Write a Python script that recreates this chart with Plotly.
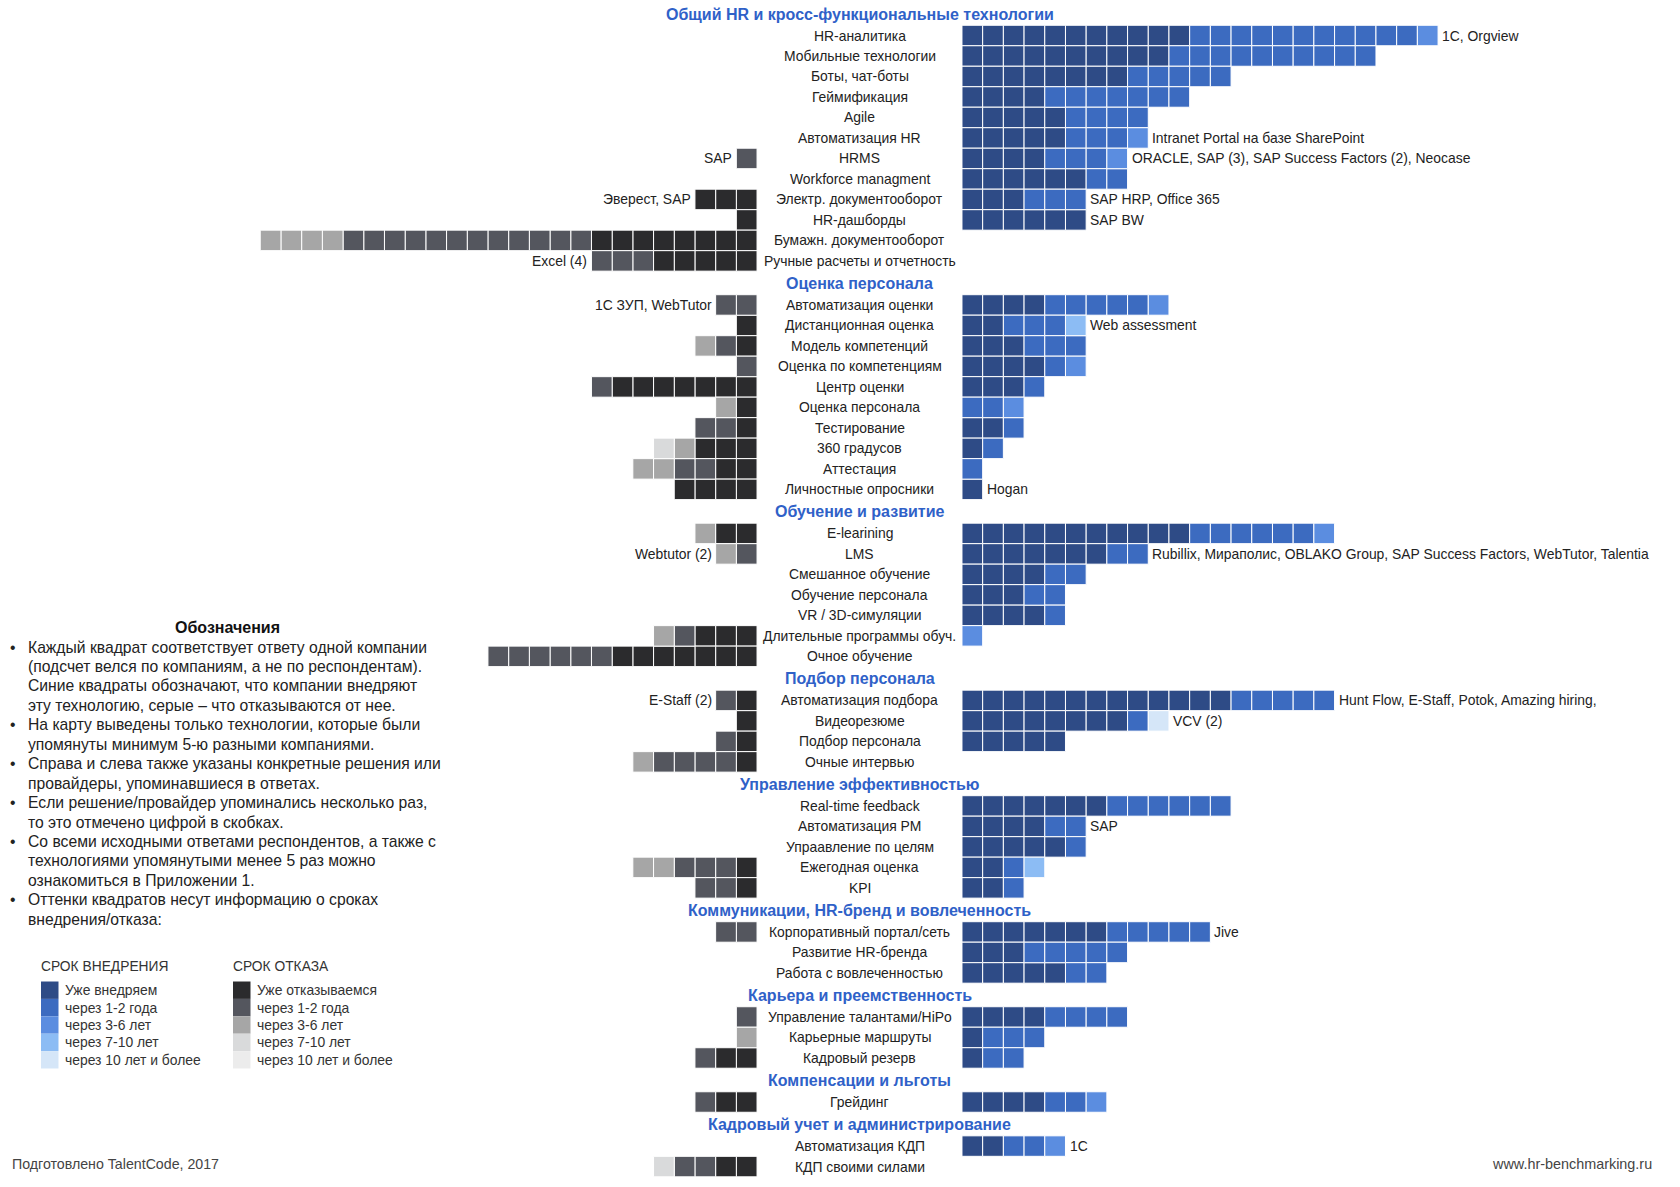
import plotly.graph_objects as go

W, H = 1680, 1187

# ---------------- data ----------------
section_titles = [
    "Общий HR и кросс-функциональные технологии",
    "Оценка персонала",
    "Обучение и развитие",
    "Подбор персонала",
    "Управление эффективностью",
    "Коммуникации, HR-бренд и вовлеченность",
    "Карьера и преемственность",
    "Компенсации и льготы",
    "Кадровый учет и администрирование",
]
section_sizes = [12, 10, 7, 4, 5, 3, 3, 1, 2]

tech_names = [
    "HR-аналитика", "Мобильные технологии", "Боты, чат-боты", "Геймификация", "Agile",
    "Автоматизация HR", "HRMS", "Workforce managment", "Электр. документооборот",
    "HR-дашборды", "Бумажн. документооборот", "Ручные расчеты и отчетность",
    "Автоматизация оценки", "Дистанционная оценка", "Модель компетенций",
    "Оценка по компетенциям", "Центр оценки", "Оценка персонала", "Тестирование",
    "360 градусов", "Аттестация", "Личностные опросники",
    "E-learining", "LMS", "Смешанное обучение", "Обучение персонала", "VR / 3D-симуляции",
    "Длительные программы обуч.", "Очное обучение",
    "Автоматизация подбора", "Видеорезюме", "Подбор персонала", "Очные интервью",
    "Real-time feedback", "Автоматизация PM", "Упраавление по целям", "Ежегодная оценка", "KPI",
    "Корпоративный портал/сеть", "Развитие HR-бренда", "Работа с вовлеченностью",
    "Управление талантами/HiPo", "Карьерные маршруты", "Кадровый резерв",
    "Грейдинг",
    "Автоматизация КДП", "КДП своими силами",
]

# adoption (blue, right side) — number of companies by timeframe
adopt_now = [11, 10, 8, 4, 5, 5, 4, 6, 3, 6, 0, 0,
             4, 2, 3, 4, 3, 0, 2, 1, 0, 1,
             11, 7, 4, 3, 4, 0, 0,
             13, 8, 5, 0,
             7, 4, 5, 2, 2,
             7, 3, 5,
             4, 1, 1,
             4,
             2, 0]
adopt_1_2 = [11, 10, 5, 7, 4, 3, 3, 2, 3, 0, 0, 0,
             5, 3, 3, 1, 1, 2, 1, 1, 1, 0,
             6, 2, 2, 2, 1, 0, 0,
             5, 1, 0, 0,
             6, 2, 1, 1, 1,
             5, 5, 2,
             4, 3, 2,
             2,
             2, 0]
adopt_3_6 = [1, 0, 0, 0, 0, 1, 1, 0, 0, 0, 0, 0,
             1, 0, 0, 1, 0, 1, 0, 0, 0, 0,
             1, 0, 0, 0, 0, 1, 0,
             0, 0, 0, 0,
             0, 0, 0, 0, 0,
             0, 0, 0,
             0, 0, 0,
             1,
             1, 0]
adopt_7_10 = [0, 0, 0, 0, 0, 0, 0, 0, 0, 0, 0, 0,
              0, 1, 0, 0, 0, 0, 0, 0, 0, 0,
              0, 0, 0, 0, 0, 0, 0,
              0, 0, 0, 0,
              0, 0, 0, 1, 0,
              0, 0, 0,
              0, 0, 0,
              0,
              0, 0]
adopt_10p = [0, 0, 0, 0, 0, 0, 0, 0, 0, 0, 0, 0,
             0, 0, 0, 0, 0, 0, 0, 0, 0, 0,
             0, 0, 0, 0, 0, 0, 0,
             0, 1, 0, 0,
             0, 0, 0, 0, 0,
             0, 0, 0,
             0, 0, 0,
             0,
             0, 0]

# rejection (grey, left side)
reject_now = [0, 0, 0, 0, 0, 0, 0, 0, 3, 1, 8, 5,
              0, 1, 1, 0, 7, 1, 1, 3, 2, 4,
              2, 0, 0, 0, 0, 3, 7,
              1, 1, 1, 1,
              0, 0, 0, 1, 1,
              0, 0, 0,
              0, 0, 2,
              2,
              0, 2]
reject_1_2 = [0, 0, 0, 0, 0, 0, 1, 0, 0, 0, 12, 3,
              2, 0, 1, 1, 1, 0, 2, 0, 2, 0,
              0, 1, 0, 0, 0, 1, 6,
              1, 0, 1, 4,
              0, 0, 0, 3, 2,
              2, 0, 0,
              1, 0, 1,
              1,
              0, 2]
reject_3_6 = [0, 0, 0, 0, 0, 0, 0, 0, 0, 0, 4, 0,
              0, 0, 1, 0, 0, 1, 0, 1, 2, 0,
              1, 1, 0, 0, 0, 1, 0,
              0, 0, 0, 1,
              0, 0, 0, 2, 0,
              0, 0, 0,
              0, 1, 0,
              0,
              0, 0]
reject_7_10 = [0, 0, 0, 0, 0, 0, 0, 0, 0, 0, 0, 0,
               0, 0, 0, 0, 0, 0, 0, 1, 0, 0,
               0, 0, 0, 0, 0, 0, 0,
               0, 0, 0, 0,
               0, 0, 0, 0, 0,
               0, 0, 0,
               0, 0, 0,
               0,
               0, 1]
reject_10p = [0] * 47

right_note_rows = [0, 5, 6, 8, 9, 13, 21, 23, 29, 30, 34, 38, 45]
right_note_texts = [
    "1C, Orgview", "Intranet Portal на базе SharePoint",
    "ORACLE, SAP (3), SAP Success Factors (2), Neocase",
    "SAP HRP, Office 365", "SAP BW", "Web assessment", "Hogan",
    "Rubillix, Мираполис, OBLAKO Group, SAP Success Factors, WebTutor, Talentia",
    "Hunt Flow, E-Staff, Potok, Amazing hiring,", "VCV (2)", "SAP", "Jive", "1C",
]
left_note_rows = [6, 8, 11, 12, 23, 29]
left_note_texts = ["SAP", "Эверест, SAP", "Excel (4)", "1С ЗУП, WebTutor", "Webtutor (2)", "E-Staff (2)"]

adopt_labels = ["Уже внедряем", "через 1-2 года", "через 3-6 лет", "через 7-10 лет", "через 10 лет и более"]
reject_labels = ["Уже отказываемся", "через 1-2 года", "через 3-6 лет", "через 7-10 лет", "через 10 лет и более"]

notes_lines = [
    ("•", "Каждый квадрат соответствует ответу одной компании"),
    ("", "(подсчет велся по компаниям, а не по респондентам)."),
    ("", "Синие квадраты обозначают, что компании внедряют"),
    ("", "эту технологию, серые – что отказываются от нее."),
    ("•", "На карту выведены только технологии, которые были"),
    ("", "упомянуты минимум 5-ю разными компаниями."),
    ("•", "Справа и слева также указаны конкретные решения или"),
    ("", "провайдеры, упоминавшиеся в ответах."),
    ("•", "Если решение/провайдер упоминались несколько раз,"),
    ("", "то это отмечено цифрой в скобках."),
    ("•", "Со всеми исходными ответами респондентов, а также с"),
    ("", "технологиями упомянутыми менее 5 раз можно"),
    ("", "ознакомиться в Приложении 1."),
    ("•", "Оттенки квадратов несут информацию о сроках"),
    ("", "внедрения/отказа:"),
]

# ---------------- styling ----------------
BLUES = ["#2e4b86", "#3c6bc0", "#5b8de0", "#8cbcf4", "#d5e6f8"]
GREYS = ["#2b2b2d", "#54565e", "#a6a6a6", "#d9dadb", "#ececec"]
FONT = "Liberation Sans, Arial, sans-serif"
HEAD_COLOR = "#2f61c8"
TXT = "#222222"
LBL_SIZE = 13.9
HEAD_SIZE = 16
BODY_SIZE = 15.7

PX_X = 20.7     # px per square horizontally
PX_Y = 20.49    # px per row vertically
CENTER_PX = 859.5
TOP_PX = 14.0
GAP = 4.95      # distance (in squares) from centre to first square

# row positions (in row units)
header_y, row_y = [], []
u = 0.0
for s, n in enumerate(section_sizes):
    header_y.append(u)
    for k in range(n):
        row_y.append(u + 1.05 + k)
    u = u + 1.05 + (n - 1) + 1.1

N = len(tech_names)
adopt_levels = [adopt_now, adopt_1_2, adopt_3_6, adopt_7_10, adopt_10p]
reject_levels = [reject_now, reject_1_2, reject_3_6, reject_7_10, reject_10p]

fig = go.Figure()

right_total = [0] * N
left_total = [0] * N
for side, levels, colors in (("R", adopt_levels, BLUES), ("L", reject_levels, GREYS)):
    offs = [0] * N
    for lvl, arr in enumerate(levels):
        ys, bases = [], []
        for r in range(N):
            for k in range(arr[r]):
                ys.append(row_y[r])
                if side == "R":
                    bases.append(GAP + offs[r])
                else:
                    bases.append(-GAP - offs[r] - 1)
                offs[r] += 1
        if ys:
            fig.add_trace(go.Bar(
                orientation="h", y=ys, x=[1] * len(ys), base=bases, width=1,
                marker=dict(color=colors[lvl], line=dict(color="white", width=1)),
                hoverinfo="skip", showlegend=False,
            ))
    if side == "R":
        right_total = offs
    else:
        left_total = offs

ann = []
for t, y in zip(section_titles, header_y):
    ann.append(dict(x=0, y=y, text="<b>%s</b>" % t, showarrow=False, xanchor="center", yanchor="middle",
                    font=dict(family=FONT, size=HEAD_SIZE, color=HEAD_COLOR)))
for name, y in zip(tech_names, row_y):
    ann.append(dict(x=0, y=y, text=name, showarrow=False, xanchor="center", yanchor="middle",
                    font=dict(family=FONT, size=LBL_SIZE, color=TXT)))
for r, t in zip(right_note_rows, right_note_texts):
    ann.append(dict(x=GAP + right_total[r] + 0.1, y=row_y[r], text=t, showarrow=False,
                    xanchor="left", yanchor="middle", font=dict(family=FONT, size=LBL_SIZE, color=TXT)))
for r, t in zip(left_note_rows, left_note_texts):
    ann.append(dict(x=-GAP - left_total[r] - 0.1, y=row_y[r], text=t, showarrow=False,
                    xanchor="right", yanchor="middle", font=dict(family=FONT, size=LBL_SIZE, color=TXT)))


def px(x):
    return x / W


def py(y):
    return 1 - y / H


ann.append(dict(xref="paper", yref="paper", x=px(227), y=py(627), text="<b>Обозначения</b>",
                showarrow=False, xanchor="center", yanchor="middle",
                font=dict(family=FONT, size=16, color="#111111")))
for i, (b, line) in enumerate(notes_lines):
    yy = 647 + i * 19.45
    if b:
        ann.append(dict(xref="paper", yref="paper", x=px(8), y=py(yy), text=b, showarrow=False,
                        xanchor="left", yanchor="middle", font=dict(family=FONT, size=BODY_SIZE, color=TXT)))
    ann.append(dict(xref="paper", yref="paper", x=px(26), y=py(yy), text=line, showarrow=False,
                    xanchor="left", yanchor="middle", font=dict(family=FONT, size=BODY_SIZE, color=TXT)))

shapes = []
for col_x, title, labels, colors in ((40, "СРОК ВНЕДРЕНИЯ", adopt_labels, BLUES),
                                     (232, "СРОК ОТКАЗА", reject_labels, GREYS)):
    ann.append(dict(xref="paper", yref="paper", x=px(col_x - 1), y=py(966), text=title, showarrow=False,
                    xanchor="left", yanchor="middle", font=dict(family=FONT, size=13.8, color="#333333")))
    for i, (lab, c) in enumerate(zip(labels, colors)):
        y0 = 981.5 + i * 17.4
        shapes.append(dict(type="rect", xref="paper", yref="paper", x0=px(col_x + 1), x1=px(col_x + 18.5),
                           y0=py(y0), y1=py(y0 + 17.4), fillcolor=c, line=dict(width=0), layer="above"))
        ann.append(dict(xref="paper", yref="paper", x=px(col_x + 23), y=py(y0 + 8.7), text=lab,
                        showarrow=False, xanchor="left", yanchor="middle",
                        font=dict(family=FONT, size=13.9, color="#333333")))

ann.append(dict(xref="paper", yref="paper", x=px(10), y=py(1163.5), text="Подготовлено TalentCode, 2017",
                showarrow=False, xanchor="left", yanchor="middle", font=dict(family=FONT, size=14.2, color="#444444")))
ann.append(dict(xref="paper", yref="paper", x=px(1654), y=py(1163.5), text="www.hr-benchmarking.ru",
                showarrow=False, xanchor="right", yanchor="middle", font=dict(family=FONT, size=14.4, color="#444444")))

fig.update_layout(
    width=W, height=H,
    margin=dict(l=0, r=0, t=0, b=0),
    paper_bgcolor="white", plot_bgcolor="white",
    barmode="overlay",
    showlegend=False,
    hovermode=False,
    xaxis=dict(range=[-CENTER_PX / PX_X, (W - CENTER_PX) / PX_X], visible=False, fixedrange=True),
    yaxis=dict(range=[(H - TOP_PX) / PX_Y, -TOP_PX / PX_Y], visible=False, fixedrange=True),
    annotations=ann,
    shapes=shapes,
)

fig.write_html("out.html", config={"displayModeBar": False},
               post_script="document.body.style.margin='0';document.body.style.overflow='hidden';")
